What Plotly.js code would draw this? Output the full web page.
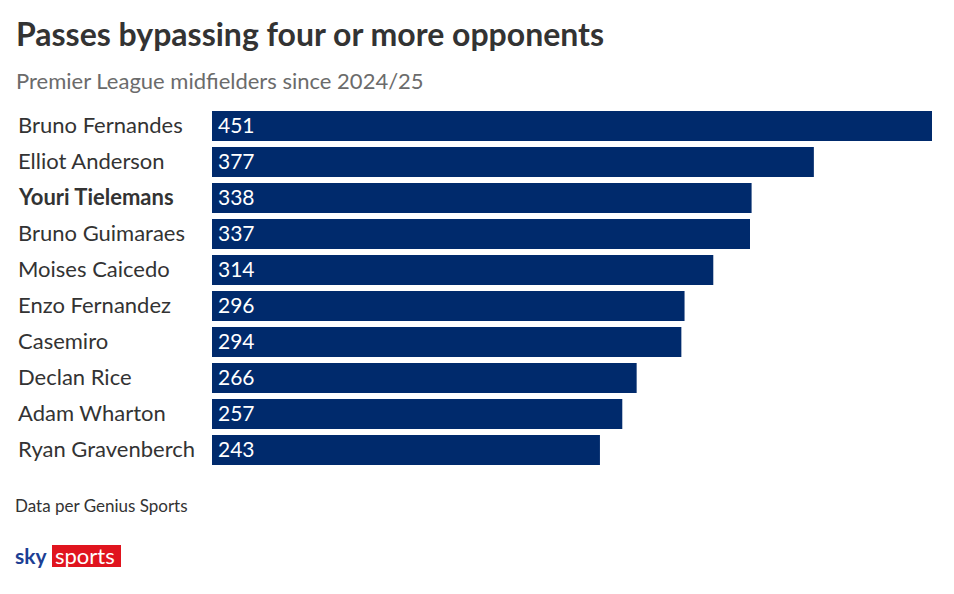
<!DOCTYPE html>
<html>
<head>
<meta charset="utf-8">
<script src="https://cdn.plot.ly/plotly-3.0.1.min.js"></script>
<style>
  html, body { margin: 0; padding: 0; background: #fff; }
  #chart { width: 954px; height: 594px; }
</style>
</head>
<body>
<div id="chart"></div>
<script>
// Players, top to bottom
const players = [
  "Bruno Fernandes", "Elliot Anderson", "Youri Tielemans", "Bruno Guimaraes",
  "Moises Caicedo", "Enzo Fernandez", "Casemiro", "Declan Rice",
  "Adam Wharton", "Ryan Gravenberch"
];
// Passes bypassing four or more opponents
const passes = [451, 377, 338, 337, 314, 296, 294, 266, 257, 243];
const highlighted = "Youri Tielemans";

const FONT = "Lato, 'Open Sans', sans-serif";
const TEXT = "#333333";
const BAR = "#002a6c";

// Plot area geometry (pixels)
const L = 212, R = 22, T = 108, B = 126, W = 954 - L - R, H = 594 - T - B;
const px = x => (x - L) / W;          // page x -> paper x
const py = y => (594 - B - y) / H;    // page y -> paper y

const trace = {
  type: "bar",
  orientation: "h",
  x: passes,
  y: players,
  marker: { color: BAR },
  hoverinfo: "skip"
};

// Name labels down the left edge
const nameLabels = players.map(p => ({
  xref: "paper", yref: "y",
  x: px(16), y: p, yshift: 1.5,
  xanchor: "left", yanchor: "middle",
  text: p === highlighted ? "<b>" + p + "</b>" : p,
  showarrow: false,
  font: { family: FONT, size: 22, color: TEXT }
}));

// Values printed at the base of each bar
const valueLabels = players.map((p, i) => ({
  xref: "x", yref: "y",
  x: 0, y: p, xshift: 4, yshift: 1.5,
  xanchor: "left", yanchor: "middle",
  text: String(passes[i]),
  showarrow: false,
  font: { family: FONT, size: 21, color: "#ffffff" }
}));

const layout = {
  width: 954, height: 594,
  margin: { l: L, r: R, t: T, b: B },
  paper_bgcolor: "#ffffff",
  plot_bgcolor: "#ffffff",
  showlegend: false,
  bargap: 6 / 36,
  xaxis: { range: [0, 451], visible: false, fixedrange: true },
  yaxis: {
    autorange: "reversed", showticklabels: false, showgrid: false,
    zeroline: false, showline: false, ticks: "", fixedrange: true
  },
  shapes: [
    {
      type: "rect", xref: "paper", yref: "paper",
      x0: px(52), x1: px(121), y0: py(567), y1: py(545),
      fillcolor: "#e0141e", line: { width: 0 }, layer: "above"
    }
  ],
  annotations: nameLabels.concat(valueLabels, [
    {
      xref: "paper", yref: "paper", x: px(14), y: py(33),
      xanchor: "left", yanchor: "middle", showarrow: false,
      text: "<b>Passes bypassing four or more opponents</b>",
      font: { family: FONT, size: 32, color: TEXT }
    },
    {
      xref: "paper", yref: "paper", x: px(14), y: py(80),
      xanchor: "left", yanchor: "middle", showarrow: false,
      text: "Premier League midfielders since 2024/25",
      font: { family: FONT, size: 22, color: "#6b6b6b" }
    },
    {
      xref: "paper", yref: "paper", x: px(13), y: py(505),
      xanchor: "left", yanchor: "middle", showarrow: false,
      text: "Data per Genius Sports",
      font: { family: FONT, size: 17, color: TEXT }
    },
    {
      xref: "paper", yref: "paper", x: px(13), y: py(555),
      xanchor: "left", yanchor: "middle", showarrow: false,
      text: "<b>sky</b>",
      font: { family: FONT, size: 21, color: "#1c3f94" }
    },
    {
      xref: "paper", yref: "paper", x: px(53), y: py(555),
      xanchor: "left", yanchor: "middle", showarrow: false,
      text: "sports",
      font: { family: FONT, size: 22, color: "#ffffff" }
    }
  ])
};

Plotly.newPlot("chart", [trace], layout, { displayModeBar: false, staticPlot: true });
</script>
</body>
</html>
